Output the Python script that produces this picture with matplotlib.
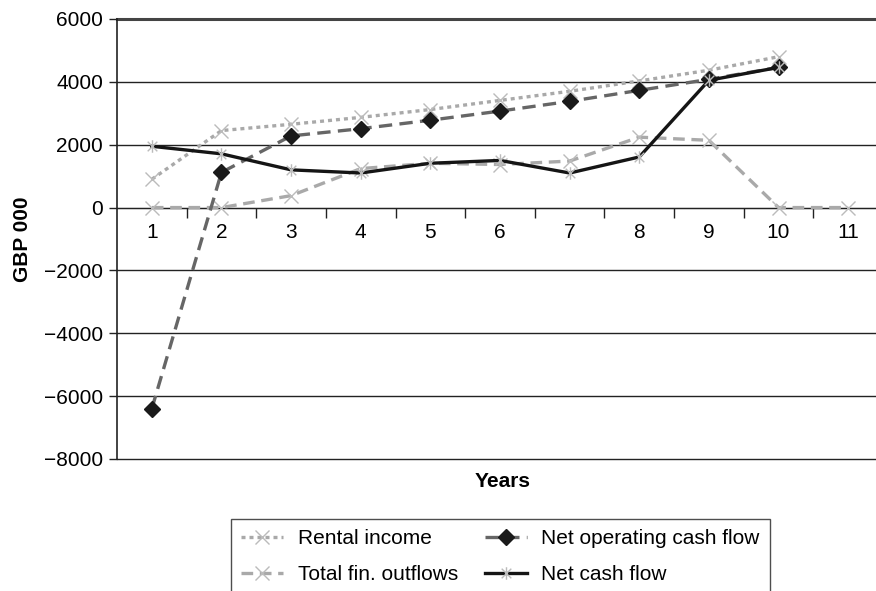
import numpy as np
import matplotlib
matplotlib.use("Agg")
import matplotlib.pyplot as plt
from matplotlib.path import Path
from matplotlib.ticker import FixedLocator

plt.rcParams["font.family"] = ["Liberation Sans", "DejaVu Sans"]

years = [1, 2, 3, 4, 5, 6, 7, 8, 9, 10, 11]
rental_income = [900, 2450, 2650, 2870, 3120, 3410, 3700, 4030, 4370, 4800, np.nan]
net_operating = [-6400, 1120, 2280, 2510, 2780, 3070, 3380, 3730, 4080, 4460, np.nan]
fin_outflows = [0, 0, 380, 1240, 1410, 1370, 1480, 2240, 2140, 0, 0]
net_cash_flow = [1950, 1710, 1200, 1100, 1410, 1500, 1100, 1610, 4050, 4460, np.nan]

y_ticks = [-8000, -6000, -4000, -2000, 0, 2000, 4000, 6000]

# Excel style asterisk: x with a vertical bar
star = Path(
    [(-1, -1), (1, 1), (-1, 1), (1, -1), (0, -1.3), (0, 1.3)],
    [Path.MOVETO, Path.LINETO, Path.MOVETO, Path.LINETO, Path.MOVETO, Path.LINETO],
)

fig = plt.figure(figsize=(8.76, 5.91), dpi=100)
ax = fig.add_axes([117 / 876, 1 - 459 / 591, 766 / 876, 440 / 591])

ax.plot(years, rental_income, color="#a9a9a9", lw=2.4, ls=(0, (1.2, 1.2)),
        marker="x", ms=9.5, mec="#bbbbbb", mew=1.0, label="Rental income", zorder=3)
ax.plot(years, fin_outflows, color="#a9a9a9", lw=2.4, ls=(0, (3.5, 2)),
        marker="x", ms=9.5, mec="#bbbbbb", mew=1.0, label="Total fin. outflows", zorder=3)
ax.plot(years, net_operating, color="#666666", lw=2.4, ls=(0, (4, 2.2)),
        marker="D", ms=8, mfc="#1a1a1a", mec="#1a1a1a", label="Net operating cash flow",
        zorder=4)
ax.plot(years, net_cash_flow, color="#151515", lw=2.4, ls="-",
        marker=star, ms=9, mec="#bbbbbb", mew=1.0, label="Net cash flow", zorder=5)

ax.set_xlim(0.5, 11.5)
ax.set_ylim(-8000, 6000)
ax.set_yticks(y_ticks)
ax.set_yticklabels([f"{v:d}".replace("-", "\u2212") for v in y_ticks])

ax.set_xticks(years)
ax.set_xticklabels([str(y) for y in years])
ax.xaxis.set_minor_locator(FixedLocator([y + 0.5 for y in years[:-1]]))
ax.tick_params(axis="x", which="major", length=0, pad=11, labelsize=15)
ax.tick_params(axis="x", which="minor", length=7, width=1, direction="out", color="#222222")
ax.tick_params(axis="y", length=6, width=1, pad=4, labelsize=15, color="#222222")

ax.spines["bottom"].set_position(("data", 0))
ax.spines["bottom"].set_color("#222222")
ax.spines["left"].set_color("#222222")
ax.spines["left"].set_linewidth(1.2)
ax.spines["top"].set_visible(False)
ax.spines["right"].set_visible(False)

ax.grid(axis="y", color="#222222", lw=1.0)
for gl in ax.yaxis.get_gridlines():
    gl.set_clip_on(False)
ax.set_axisbelow(True)
ax.yaxis.get_gridlines()[-1].set_linewidth(2.2)
ax.yaxis.get_gridlines()[-1].set_color("#444444")

ax.set_ylabel("GBP 000", fontsize=15, fontweight="bold")
ax.yaxis.set_label_coords(-0.111, 0.5)
ax.set_xlabel("Years", fontsize=15, fontweight="bold")
ax.xaxis.set_label_coords(0.504, -0.029)

h, l = ax.get_legend_handles_labels()
leg = fig.legend(h, l, ncol=2,
                 loc="upper left", bbox_to_anchor=(231 / 876, 1 - 519 / 591),
                 fontsize=15, frameon=True, fancybox=False, borderaxespad=0,
                 handlelength=2.0, handletextpad=0.7, columnspacing=1.3,
                 labelspacing=0.8, borderpad=0.5, numpoints=1)
leg.get_frame().set_edgecolor("#222222")
leg.get_frame().set_linewidth(1.0)

fig.savefig("out.png", dpi=100)
